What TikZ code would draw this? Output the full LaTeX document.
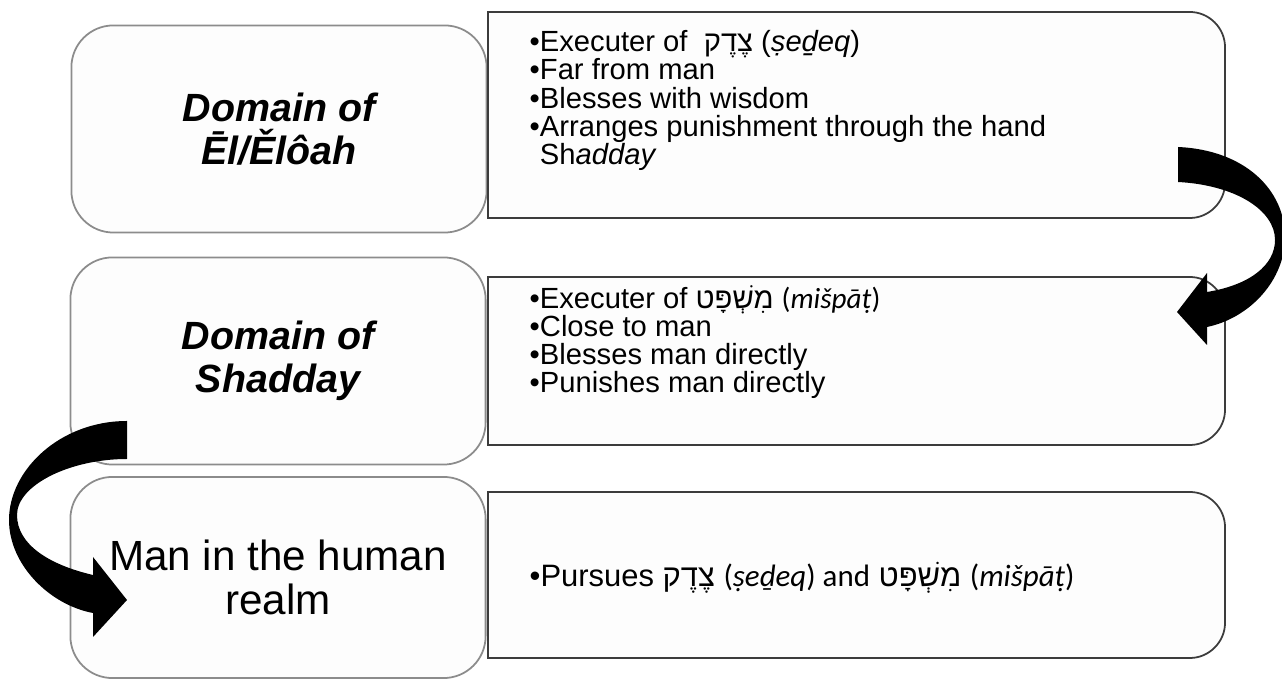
\documentclass[tikz,border=0pt]{standalone}
\usepackage{fontspec}
\setmainfont{Liberation Sans}
\newfontfamily\hebrewfont[Script=Hebrew]{Liberation Sans}
\newfontfamily\calfont{Carlito}
\TeXXeTstate=1
\usetikzlibrary{positioning}

\definecolor{boxgray}{HTML}{8C8C8C}
\definecolor{boxdark}{HTML}{3C3C3C}
\definecolor{boxfill}{HTML}{FDFDFD}

\newcommand{\heb}[1]{{\hebrewfont\beginR #1\endR}}
\newcommand{\bul}{\textbullet}

\tikzset{
	domainbox/.style={draw=boxgray, fill=boxfill, line width=0.5pt, rounded corners=0.42cm,
		minimum width=4.15cm, minimum height=2.07cm, inner sep=0pt, align=center},
	domainname/.style={font=\fontsize{11.2}{12.3}\selectfont\bfseries\itshape},
	pointbox/.style={draw=boxdark, fill=boxfill, line width=0.5pt},
	points/.style={anchor=north west, inner sep=0pt, align=left, font=\fontsize{8.3}{8}\selectfont},
	bigarrow/.style={fill=black}
}

\begin{document}
\begin{tikzpicture}[x=0.01cm, y=-0.01cm]
			\useasboundingbox (0,0) rectangle (1282,680);
			
			% left column
			\node [domainbox, domainname] (eldomain) at (279,129) {Domain of\\Ēl/Ělôah};
			\node [domainbox, domainname] (shaddomain) at (278,361) {Domain of\\Shadday};
			\node [domainbox, minimum height=2.01cm, font=\fontsize{12}{12.5}\selectfont] (mandomain) at (278,577.5) {Man in the human\\realm};
			
			% right column, square on the left side
			\foreach \ya/\yb in {12/218, 277/445, 492/658}
			{
				\draw [pointbox] (488,\ya) -- (1190,\ya) .. controls (1209,\ya) and (1225,\ya+16) .. (1225,\ya+35)
					-- (1225,\yb-35) .. controls (1225,\yb-16) and (1209,\yb) .. (1190,\yb) -- (488,\yb) -- cycle;
			}
			
			\node [points] (elpoints) at (529,30) {\bul Executer of \ \heb{צֶדֶק} (\textit{ṣeḏeq})\\
				\bul Far from man\\
				\bul Blesses with wisdom\\
				\bul Arranges punishment through the hand\\
				\phantom{\bul}Sh\textit{adday}};
			\node [points] (shadpoints) at (529,285) {\bul Executer of \heb{מִשְׁפָּט} {\calfont(\textit{mišpāṭ})}\\
				\bul Close to man\\
				\bul Blesses man directly\\
				\bul Punishes man directly};
			\node [points, font=\fontsize{8.8}{8.8}\selectfont] (manpoints) at (529,562) {\bul Pursues \heb{צֶדֶק} {\calfont(\textit{ṣeḏeq}) and} \heb{מִשְׁפָּט} {\calfont(\textit{mišpāṭ})}};
			
			% curved arrows
			\fill [bigarrow] (1178,147) .. controls (1245,150) and (1285,190) .. (1285,237)
				.. controls (1285,280) and (1250,318) .. (1207,327)
				-- (1207,345) -- (1177,312) -- (1207,273) -- (1207,292)
				.. controls (1250,285) and (1275,265) .. (1275,240)
				.. controls (1275,210) and (1235,185) .. (1178,182) -- cycle;
			\fill [bigarrow] (127,421) .. controls (60,421) and (9,470) .. (9,520)
				.. controls (9,565) and (50,605) .. (93,613)
				-- (93,637) -- (127,600) -- (93,557) -- (93,575)
				.. controls (50,565) and (17,545) .. (17,515)
				.. controls (17,485) and (70,459) .. (127,459) -- cycle;
\end{tikzpicture}
\end{document}
